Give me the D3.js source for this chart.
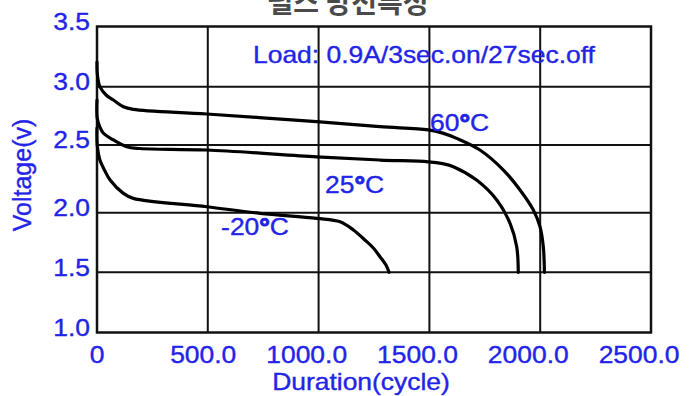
<!DOCTYPE html>
<html>
<head>
<meta charset="utf-8">
<script src="https://cdn.jsdelivr.net/npm/d3@7"></script>
<style>
  html, body { margin: 0; padding: 0; background: #fff; }
  svg { display: block; }
  text { font-family: "Liberation Sans", Arial, sans-serif; }
</style>
</head>
<body>
<svg id="chart" width="696" height="396"></svg>
<script>
// ---- data ----
const title = "펄스 방전특성";
const xTicks = [0, 500, 1000, 1500, 2000, 2500];
const xTickLabels = ["0", "500.0", "1000.0", "1500.0", "2000.0", "2500.0"];
const yTicks = [1.0, 1.5, 2.0, 2.5, 3.0, 3.5];
const yTickLabels = ["1.0", "1.5", "2.0", "2.5", "3.0", "3.5"];
const xTitle = "Duration(cycle)";
const yTitle = "Voltage(v)";
const note = "Load: 0.9A/3sec.on/27sec.off";

const cycles60 = [0, 2, 13, 41, 74, 119, 164, 495, 991, 1277, 1495, 1560, 1623, 1728, 1834, 1909, 1969, 1999, 2014, 2019];
const volts60  = [3.205, 3.097, 3.0, 2.929, 2.886, 2.828, 2.806, 2.766, 2.700, 2.657, 2.629, 2.602, 2.557, 2.463, 2.315, 2.168, 2.020, 1.883, 1.715, 1.5];

const cycles25 = [0, 1, 13, 28, 74, 134, 194, 495, 991, 1277, 1495, 1560, 1608, 1713, 1804, 1864, 1894, 1901];
const volts25  = [2.886, 2.729, 2.654, 2.603, 2.543, 2.487, 2.474, 2.463, 2.413, 2.389, 2.376, 2.362, 2.340, 2.241, 2.094, 1.911, 1.715, 1.5];

const cyclesM20 = [0, 1, 13, 36, 59, 119, 164, 495, 736, 991, 1097, 1157, 1209, 1247, 1277, 1304, 1318];
const voltsM20  = [2.646, 2.5, 2.389, 2.308, 2.241, 2.143, 2.106, 2.044, 1.995, 1.953, 1.924, 1.855, 1.771, 1.704, 1.631, 1.561, 1.5];

const seriesTemps = ["60", "25", "-20"];
const labelCycles = [1503, 1029, 560];
const labelVolts  = [2.62, 2.145, 1.813];
const noteCycle = 704, noteVolt = 3.197;

// ---- drawing ----
const svg = d3.select("#chart");
const x = d3.scaleLinear().domain([0, 2500]).range([97, 651]);
const y = d3.scaleLinear().domain(yTicks).range([332.5, 272.3, 212.7, 145, 86.7, 26.5]);
const blue = "#2323e8";
const stretch = 1.15;

// title (cropped at top, as in reference)
svg.append("text")
  .attr("x", 348).attr("y", 13)
  .attr("text-anchor", "middle")
  .style("font-family", "'Noto Sans CJK KR', sans-serif")
  .style("font-weight", "bold")
  .style("font-size", "28px")
  .attr("fill", "#4a4a4a")
  .text(title);

// grid
const grid = svg.append("g");
grid.selectAll("line.v").data(xTicks.slice(1, -1)).join("line")
  .attr("x1", d => x(d)).attr("x2", d => x(d))
  .attr("y1", y(3.5)).attr("y2", y(1.0))
  .attr("stroke", "#111").attr("stroke-width", 2);
grid.selectAll("line.h").data(yTicks.slice(1, -1)).join("line")
  .attr("x1", x(0)).attr("x2", x(2500))
  .attr("y1", d => y(d)).attr("y2", d => y(d))
  .attr("stroke", "#111").attr("stroke-width", 2);
grid.append("rect")
  .attr("x", x(0)).attr("y", y(3.5))
  .attr("width", x(2500) - x(0)).attr("height", y(1.0) - y(3.5))
  .attr("fill", "none").attr("stroke", "#111").attr("stroke-width", 2.5);

// curves
const line = d3.line().x(d => x(d[0])).y(d => y(d[1])).curve(d3.curveCatmullRom.alpha(0.5));
const allSeries = [
  d3.zip(cycles60, volts60),
  d3.zip(cycles25, volts25),
  d3.zip(cyclesM20, voltsM20)
];
svg.append("g").selectAll("path").data(allSeries).join("path")
  .attr("d", line)
  .attr("fill", "none").attr("stroke", "#000").attr("stroke-width", 3.2)
  .attr("stroke-linejoin", "round").attr("stroke-linecap", "round");

// helper for stretched text
function stext(g, tx, ty, str, anchor, size) {
  return g.append("text")
    .attr("transform", `translate(${tx},${ty}) scale(${stretch},1)`)
    .attr("text-anchor", anchor)
    .style("font-size", size + "px")
    .attr("fill", blue)
    .attr("stroke", blue).attr("stroke-width", 0.35)
    .text(str);
}

const lab = svg.append("g");
// y tick labels
yTicks.forEach((v, i) => stext(lab, 90, y(v) + 3.3, yTickLabels[i], "end", 23));
// x tick labels
xTicks.forEach((v, i) => {
  if (i === 0) stext(lab, x(v), 363, xTickLabels[i], "middle", 23);
  else stext(lab, x(v) + 28.5, 363, xTickLabels[i], "end", 23);
});
// axis titles
stext(lab, 361, 390, xTitle, "middle", 23);
lab.append("text")
  .attr("transform", `translate(31,175) rotate(-90)`)
  .attr("text-anchor", "middle")
  .style("font-size", "25px")
  .attr("fill", blue)
  .attr("stroke", blue).attr("stroke-width", 0.35)
  .text(yTitle);

// note
stext(lab, x(noteCycle), y(noteVolt), note, "start", 23);

// series labels
seriesTemps.forEach((s, i) => {
  const t = stext(lab, x(labelCycles[i]), y(labelVolts[i]), "", "start", 23);
  t.append("tspan").text(s);
  t.append("tspan").style("font-weight", "bold").attr("stroke-width", 1).text("°");
  t.append("tspan").text("C");
});
</script>
</body>
</html>
